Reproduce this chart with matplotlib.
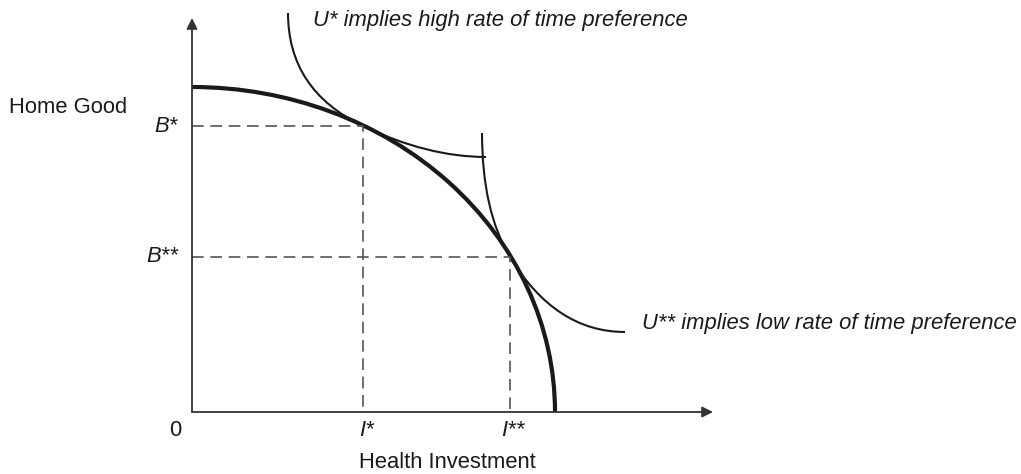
import matplotlib
matplotlib.use("Agg")
import matplotlib.pyplot as plt
from matplotlib.path import Path
from matplotlib.patches import PathPatch, Arc

plt.rcParams['font.family'] = ['Liberation Sans', 'DejaVu Sans']

# production possibility frontier: intercepts on each axis
ppf_x_max = 363
ppf_y_max = 325

# tangency points (health investment, home good)
point_star = (171, 286)
point_2star = (318, 155)

# indifference curves: (top end, bottom end)
u_star_ends = [(96, 399), (294, 255)]
u_2star_ends = [(290, 279), (433, 80)]

axis_x_end = 521
axis_y_end = 394

tick_labels_x = ['I*', 'I**']
tick_labels_y = ['B*', 'B**']
curve_labels = ['U* implies high rate of time preference',
                'U** implies low rate of time preference']

ink = '#1a1a1a'
fs = 15.8


def ppf_slope(pt):
    x, y = pt
    return -(ppf_y_max ** 2 * x) / (ppf_x_max ** 2 * y)


def indiff_path(top, tangent, bottom):
    # two quadratic pieces meeting at the tangency point with the frontier's slope;
    # vertical at the top end, flat at the bottom end
    s = ppf_slope(tangent)
    c1 = (top[0], tangent[1] + s * (top[0] - tangent[0]))
    c2 = (tangent[0] + (bottom[1] - tangent[1]) / s, bottom[1])
    verts = [top, c1, tangent, c2, bottom]
    codes = [Path.MOVETO, Path.CURVE3, Path.CURVE3, Path.CURVE3, Path.CURVE3]
    return Path(verts, codes)


fig = plt.figure(figsize=(10.21, 4.74), dpi=100)
ax = fig.add_axes([0, 0, 1, 1])
ax.set_xlim(-192, 829)
ax.set_ylim(-62, 412)
ax.axis('off')

# axes with arrow heads
arrow = dict(arrowstyle='-|>', lw=1.3, color='#333333', mutation_scale=16, shrinkA=0, shrinkB=0)
ax.annotate('', xy=(axis_x_end, 0), xytext=(0, 0), arrowprops=arrow)
ax.annotate('', xy=(0, axis_y_end), xytext=(0, 0), arrowprops=arrow)

# frontier as a quarter ellipse
ax.add_patch(Arc((0, 0), 2 * ppf_x_max, 2 * ppf_y_max, theta1=0, theta2=90,
                 lw=3.0, color=ink))

# indifference curves
ax.add_patch(PathPatch(indiff_path(u_star_ends[0], point_star, u_star_ends[1]),
                       fill=False, lw=1.5, edgecolor=ink))
ax.add_patch(PathPatch(indiff_path(u_2star_ends[0], point_2star, u_2star_ends[1]),
                       fill=False, lw=1.5, edgecolor=ink))

# dashed guides to the axes
for (px, py) in [point_star, point_2star]:
    ax.plot([0, px, px], [py, py, 0], ls=(0, (7, 4)), lw=1.2, color='#555555')

# labels
ax.text(-183, 305, 'Home Good', fontsize=fs, ha='left', va='center', color=ink)
for lab, (px, py) in zip(tick_labels_y, [point_star, point_2star]):
    ax.text(-14, py, lab, fontsize=fs, style='italic', ha='right', va='center', color=ink)
for lab, (px, py) in zip(tick_labels_x, [point_star, point_2star]):
    ax.text(px + 3, -18, lab, fontsize=fs, style='italic', ha='center', va='center', color=ink)
ax.text(-17, -18, '0', fontsize=fs, ha='center', va='center', color=ink)
ax.text(255, -51, 'Health Investment', fontsize=fs, ha='center', va='center', color=ink)

ax.text(121, 392, curve_labels[0], fontsize=fs, style='italic', ha='left', va='center', color=ink)
ax.text(450, 89, curve_labels[1], fontsize=fs, style='italic', ha='left', va='center', color=ink)

fig.savefig('out.png', dpi=100)
